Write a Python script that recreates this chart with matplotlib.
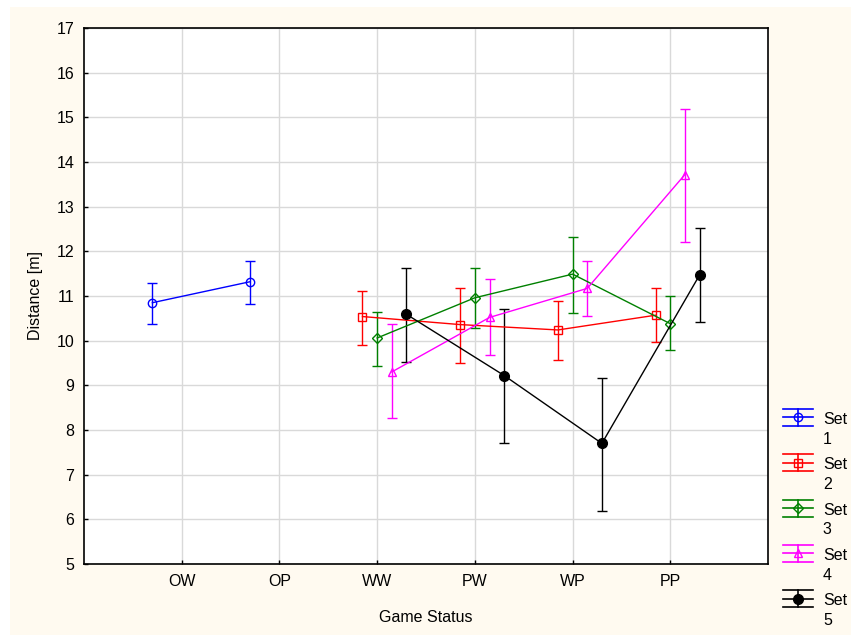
import matplotlib
matplotlib.use("Agg")
import matplotlib.pyplot as plt
from matplotlib.lines import Line2D
from matplotlib.patches import Rectangle
from matplotlib.legend_handler import HandlerBase

plt.rcParams['font.family'] = ['Liberation Sans', 'DejaVu Sans']
plt.rcParams['font.size'] = 11.5

categories = ["OW", "OP", "WW", "PW", "WP", "PP"]

# mean, lower and upper whisker per set (by category index)
set1_idx = [0, 1]
set1_mean = [10.85, 11.32]
set1_low = [10.37, 10.83]
set1_high = [11.30, 11.78]

set2_idx = [2, 3, 4, 5]
set2_mean = [10.54, 10.36, 10.24, 10.57]
set2_low = [9.91, 9.50, 9.56, 9.96]
set2_high = [11.12, 11.19, 10.88, 11.17]

set3_idx = [2, 3, 4, 5]
set3_mean = [10.06, 10.96, 11.49, 10.38]
set3_low = [9.44, 10.29, 10.63, 9.78]
set3_high = [10.65, 11.63, 12.33, 11.00]

set4_idx = [2, 3, 4, 5]
set4_mean = [9.30, 10.52, 11.17, 13.72]
set4_low = [8.27, 9.67, 10.55, 12.21]
set4_high = [10.38, 11.39, 11.78, 15.18]

set5_idx = [2, 3, 4, 5]
set5_mean = [10.59, 9.22, 7.70, 11.47]
set5_low = [9.52, 7.72, 6.19, 10.41]
set5_high = [11.62, 10.70, 9.17, 12.52]

sets = [
    ("Set\n1", set1_idx, set1_mean, set1_low, set1_high, "#0000ff", "o", "none", -0.3),
    ("Set\n2", set2_idx, set2_mean, set2_low, set2_high, "#ff0000", "s", "none", -0.15),
    ("Set\n3", set3_idx, set3_mean, set3_low, set3_high, "#008000", "D", "none", 0.0),
    ("Set\n4", set4_idx, set4_mean, set4_low, set4_high, "#ff00ff", "^", "none", 0.15),
    ("Set\n5", set5_idx, set5_mean, set5_low, set5_high, "#000000", "o", "#000000", 0.3),
]


class SetHandler(HandlerBase):
    # errorbar-style legend key: three horizontal lines, one vertical, marker
    def create_artists(self, legend, orig, xd, yd, w, h, fs, trans):
        c = orig.get_color()
        cy = h / 2 - yd + 0.78 * fs
        d = 0.53 * fs
        x0, x1 = -xd, -xd + w
        xm = (x0 + x1) / 2
        arts = []
        for y in (cy - d, cy, cy + d):
            arts.append(Line2D([x0, x1], [y, y], color=c, lw=1.2))
        arts.append(Line2D([xm, xm], [cy - d, cy + d], color=c, lw=1.2))
        arts.append(Line2D([xm], [cy], marker=orig.get_marker(), ms=orig.get_markersize(),
                           mfc=orig.get_markerfacecolor(), mec=c, ls="none"))
        for a in arts:
            a.set_transform(trans)
        return arts


fig = plt.figure(figsize=(8.51, 6.35), dpi=100, facecolor="white")
fig.patches.append(Rectangle((10 / 851, 0), 1, 1 - 7 / 635, transform=fig.transFigure,
                             facecolor="#FFFAF0", edgecolor="none", zorder=-1))
ax = fig.add_axes([84 / 851, 71 / 635, 684 / 851, 536 / 635])
ax.set_facecolor("white")

handles = []
for label, idx, mean, low, high, color, marker, mfc, off in sets:
    xs = [i + off for i in idx]
    yerr = [[m - l for m, l in zip(mean, low)], [h - m for m, h in zip(mean, high)]]
    ms = 7 if marker == "o" and mfc != "none" else 6
    if marker == "D":
        ms = 5.5
    ax.errorbar(xs, mean, yerr=yerr, color=color, marker=marker, mfc=mfc, mec=color,
                ms=ms, lw=1.0, elinewidth=1.0, capsize=3.5, capthick=1.0, zorder=3)
    handles.append(Line2D([], [], color=color, marker=marker, mfc=mfc, ms=ms, label=label))

ax.set_xlim(-1, 6)
ax.set_ylim(5, 17)
ax.set_xticks(range(len(categories)))
ax.set_xticklabels(categories)
ax.set_yticks(range(5, 18))
ax.grid(True, color="#d9d9d9", lw=1.0, zorder=0)
ax.set_axisbelow(True)
ax.tick_params(direction="in", length=3, width=1, pad=7)
for sp in ax.spines.values():
    sp.set_linewidth(1.2)

ax.set_xlabel("Game Status", labelpad=15)
ax.set_ylabel("Distance [m]", labelpad=10)

leg = fig.legend(handles=handles, handler_map={h: SetHandler() for h in handles},
                 loc="upper left", bbox_to_anchor=(783 / 851, 1 - 412 / 635), frameon=False,
                 handlelength=1.9, handletextpad=0.6, labelspacing=0.66, borderpad=0,
                 borderaxespad=0)
for t in leg.get_texts():
    t.set_linespacing(1.4)

fig.savefig("out.png", dpi=100, facecolor=fig.get_facecolor())
